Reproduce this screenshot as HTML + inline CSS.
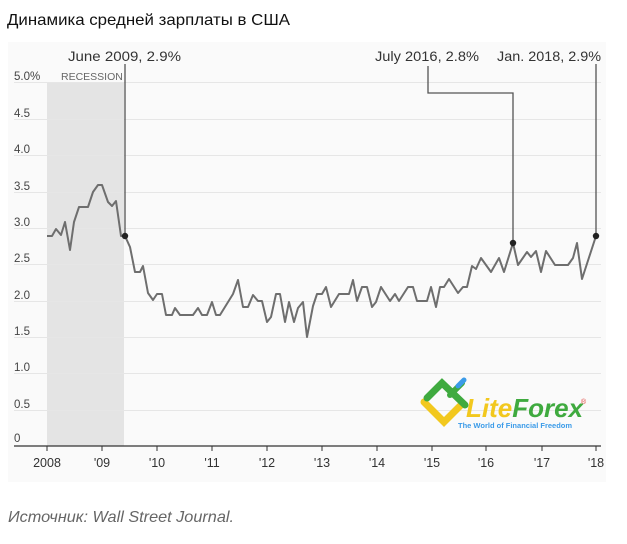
<!DOCTYPE html>
<html><head><meta charset="utf-8"><style>
body{margin:0;background:#fff;width:627px;height:539px;overflow:hidden;font-family:"Liberation Sans",sans-serif}
</style></head><body>
<svg width="627" height="539" xmlns="http://www.w3.org/2000/svg" font-family="Liberation Sans, sans-serif">
<rect x="0" y="0" width="627" height="539" fill="#fff"/>
<text x="7" y="25" font-size="16" fill="#111" textLength="283" lengthAdjust="spacingAndGlyphs">Динамика средней зарплаты в США</text>
<rect x="8" y="42" width="598" height="440" fill="#fafafa"/>
<rect x="47" y="82" width="77" height="364" fill="#e4e4e4"/>
<g stroke="#e6e6e6" stroke-width="1">
<line x1="14" x2="601" y1="82.5" y2="82.5"/><line x1="14" x2="601" y1="119.5" y2="119.5"/>
<line x1="14" x2="601" y1="155.5" y2="155.5"/><line x1="14" x2="601" y1="192.5" y2="192.5"/>
<line x1="14" x2="601" y1="228.5" y2="228.5"/><line x1="14" x2="601" y1="264.5" y2="264.5"/>
<line x1="14" x2="601" y1="301.5" y2="301.5"/><line x1="14" x2="601" y1="337.5" y2="337.5"/>
<line x1="14" x2="601" y1="373.5" y2="373.5"/><line x1="14" x2="601" y1="410.5" y2="410.5"/>
</g>
<g font-size="11.5" fill="#444">
<text x="14" y="80">5.0%</text><text x="14" y="117">4.5</text><text x="14" y="153">4.0</text>
<text x="14" y="190">3.5</text><text x="14" y="226">3.0</text><text x="14" y="262">2.5</text>
<text x="14" y="299">2.0</text><text x="14" y="335">1.5</text><text x="14" y="371">1.0</text>
<text x="14" y="408">0.5</text><text x="14" y="442">0</text>
<text x="61" y="80" fill="#666" font-size="10.5">RECESSION</text>
</g>
<line x1="14" x2="601" y1="446" y2="446" stroke="#333" stroke-width="1.2"/>
<g stroke="#333" stroke-width="1">
<line x1="47" x2="47" y1="446" y2="451"/><line x1="102" x2="102" y1="446" y2="451"/><line x1="157" x2="157" y1="446" y2="451"/><line x1="212" x2="212" y1="446" y2="451"/><line x1="267" x2="267" y1="446" y2="451"/><line x1="322" x2="322" y1="446" y2="451"/><line x1="377" x2="377" y1="446" y2="451"/><line x1="432" x2="432" y1="446" y2="451"/><line x1="486" x2="486" y1="446" y2="451"/><line x1="542" x2="542" y1="446" y2="451"/><line x1="596" x2="596" y1="446" y2="451"/>
</g>
<g font-size="12.5" fill="#333" text-anchor="middle">
<text x="47" y="467">2008</text><text x="102" y="467">'09</text><text x="157" y="467">'10</text><text x="212" y="467">'11</text><text x="267" y="467">'12</text><text x="322" y="467">'13</text><text x="377" y="467">'14</text><text x="432" y="467">'15</text><text x="486" y="467">'16</text><text x="542" y="467">'17</text><text x="596" y="467">'18</text>
</g>
<g stroke="#555" stroke-width="1.3" fill="none">
<line x1="125" x2="125" y1="64" y2="236"/>
<polyline points="428,66 428,93 513,93 513,243"/>
<line x1="596" x2="596" y1="64" y2="236"/>
</g>
<g font-size="14" fill="#333">
<text x="68" y="61" textLength="113" lengthAdjust="spacingAndGlyphs">June 2009, 2.9%</text>
<text x="375" y="61" textLength="104" lengthAdjust="spacingAndGlyphs">July 2016, 2.8%</text>
<text x="497" y="61" textLength="104" lengthAdjust="spacingAndGlyphs">Jan. 2018, 2.9%</text>
</g>
<polyline fill="none" stroke="#6e6e6e" stroke-width="2" stroke-linejoin="round" points="47,236 52,236 56,229 61,235 65,222 70,250 74,222 79,207 88,207 93,192 98,185 102,185 108,202 112,206 116,201 121,236 125,236 130,247 135,272 140,272 143,266 148,293 153,300 157,294 162,294 166,315 172,315 175,308 180,315 193,315 198,308 202,315 207,315 212,302 216,315 220,315 233,294 238,280 243,307 248,307 253,295 258,301 262,301 267,322 271,317 276,294 280,294 285,322 289,302 294,322 298,308 303,302 307,337 313,306 317,294 322,294 326,287 331,307 339,294 349,294 353,280 357,301 362,287 367,287 372,307 376,302 381,287 390,301 395,294 399,301 408,287 413,287 417,301 427,301 431,287 436,307 440,287 444,287 449,279 458,293 463,287 467,287 472,266 476,269 481,258 491,272 499,258 504,272 513,243 518,265 527,252 531,257 536,251 541,272 546,251 555,265 568,265 573,258 577,243 582,279 596,236"/>
<g fill="#222"><circle cx="125" cy="236" r="3.2"/><circle cx="513" cy="243" r="3.2"/><circle cx="596" cy="236" r="3.2"/></g>
<g stroke-linecap="round" fill="none">
<path d="M424,402 L444,422 L460,406" stroke="#f2c81e" stroke-width="7"/>
<path d="M427,398 L442,383 L465,405" stroke="#3faa3f" stroke-width="7"/>
<path d="M450,395 L462,383" stroke="#3faa3f" stroke-width="6"/>
<path d="M458,386 L464,380" stroke="#3b9be8" stroke-width="5"/>
</g>
<text x="466" y="417" font-size="26" font-weight="bold" font-style="italic" fill="#f2c81e">Lite<tspan fill="#3faa3f">Forex</tspan></text>
<text x="581" y="404" font-size="7" fill="#e0403a">®</text>
<text x="458" y="428" font-size="7.5" font-weight="bold" fill="#3b9be8">The World of Financial Freedom</text>
<text x="8" y="522" font-size="16" font-style="italic" fill="#666" textLength="226" lengthAdjust="spacingAndGlyphs">Источник: Wall Street Journal.</text>
</svg>
</body></html>
